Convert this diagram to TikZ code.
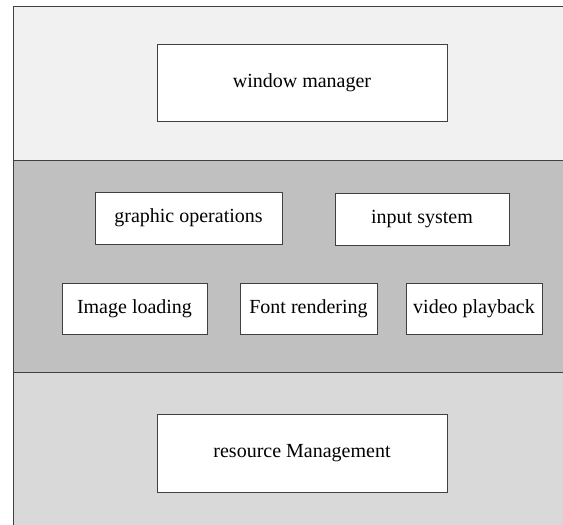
\documentclass[tikz,border=0pt]{standalone}
\usepackage{fontspec}
\setmainfont{Liberation Serif}
\definecolor{topgray}{HTML}{F1F1F1}
\definecolor{midgray}{HTML}{C0C0C0}
\definecolor{lowgray}{HTML}{D9D9D9}
\definecolor{edgegray}{HTML}{404040}
\tikzset{
  module/.style={draw=edgegray, line width=0.9pt, fill=white, inner sep=0pt,
    font=\fontsize{20}{24}\selectfont},
  layerline/.style={draw=edgegray, line width=1pt}
}
\begin{document}
\begin{tikzpicture}[x=1pt,y=-1pt]
\useasboundingbox (0,0) rectangle (563,525);
% Schichten
\fill[topgray] (13,6) rectangle (563,160);
\fill[midgray] (13,160) rectangle (563,372);
\fill[lowgray] (13,372) rectangle (563,525);
\draw[layerline] (563,6) -- (13,6) -- (13,525);
\draw[layerline] (13,160) -- (563,160);
\draw[layerline] (13,372) -- (563,372);
% Module
\node[module, minimum width=290pt, minimum height=77pt] (wm) at (302,82.5) {window manager};
\node[module, minimum width=187pt, minimum height=52pt] (gfx) at (188.5,218) {graphic operations};
\node[module, minimum width=174pt, minimum height=52pt] (input) at (422,219) {input system};
\node[module, minimum width=145pt, minimum height=51pt] (img) at (134.5,308.5) {Image loading};
\node[module, minimum width=137pt, minimum height=51pt] (font) at (308.5,308.5) {Font rendering};
\node[module, minimum width=136pt, minimum height=51pt] (video) at (474,308.5) {video playback};
\node[module, minimum width=290pt, minimum height=78pt] (res) at (302,453) {resource Management};
\end{tikzpicture}
\end{document}
